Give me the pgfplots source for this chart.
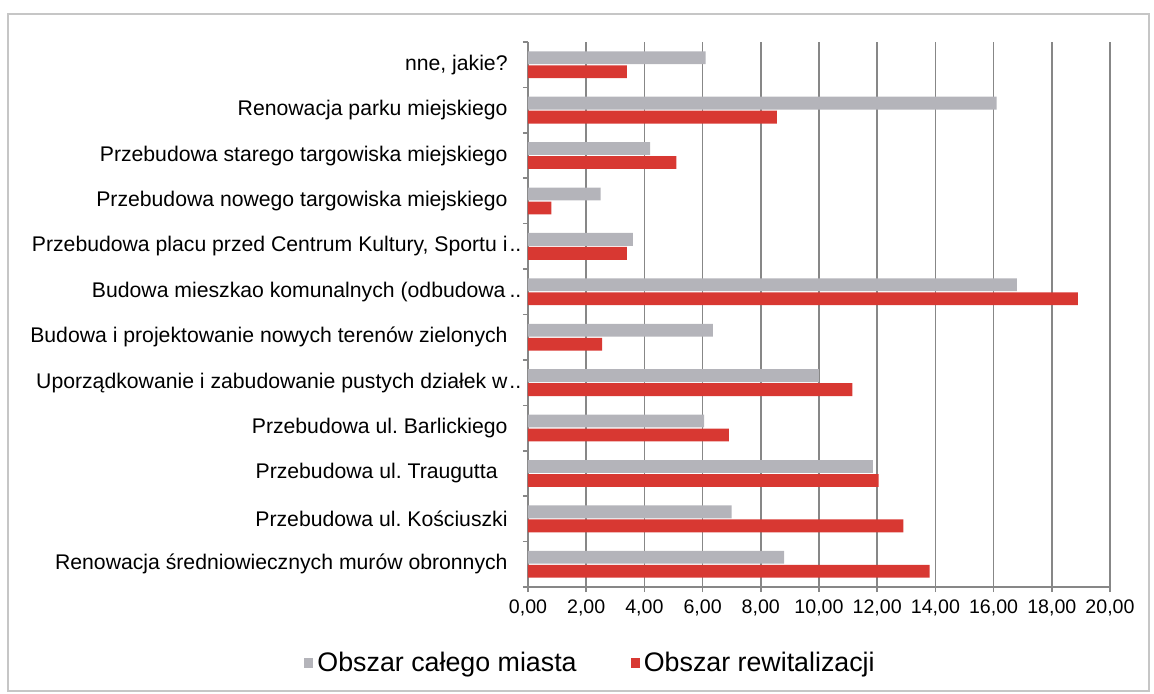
\documentclass[border=0pt]{standalone}
\usepackage{pgfplots}
\pgfplotsset{compat=1.18}
\usepackage{fontspec}
\setmainfont{Liberation Sans}
\definecolor{bargray}{RGB}{180,180,186}
\definecolor{barred}{RGB}{216,56,50}
\definecolor{gridc}{RGB}{135,135,135}
\newcommand{\trail}{\rlap{\kern1pt..}}
\begin{document}
\frenchspacing
\begin{tikzpicture}
\path[use as bounding box] (-264pt,-53pt) rectangle (313pt,293.5pt);
\draw[gray!45, line width=0.8pt] (-260pt,-52pt) rectangle (310.5pt,286.5pt);
\begin{axis}[
  at={(0pt,0pt)}, anchor=south west,
  scale only axis, width=291pt, height=272.5pt,
  xbar, bar width=6.4pt,
  xmin=0, xmax=20, ymin=-0.5, ymax=11.5,
  xtick={0,2,...,20},
  ytick={-0.5,0.5,...,11.5},
  y tick label as interval,
  yticklabels={
    Renowacja średniowiecznych murów obronnych,
    Przebudowa ul. Kościuszki,
    Przebudowa ul. Traugutta\kern5pt,
    Przebudowa ul. Barlickiego,
    Uporządkowanie i zabudowanie pustych działek w\trail,
    Budowa i projektowanie nowych terenów zielonych,
    Budowa mieszkao komunalnych (odbudowa\kern1pt\trail,
    Przebudowa placu przed Centrum Kultury{,} Sportu i\trail,
    Przebudowa nowego targowiska miejskiego,
    Przebudowa starego targowiska miejskiego,
    Renowacja parku miejskiego,
    {nne, jakie?}},
  axis x line*=bottom, axis y line*=left,
  axis line style={gridc, line width=0.8pt},
  tick align=outside, major tick length=2.5pt,
  tick style={gridc, line width=0.8pt},
  xmajorgrids, major grid style={gridc, line width=0.8pt},
  /pgf/number format/.cd, fixed, fixed zerofill, precision=2, use comma, assume math mode=true,
  /pgfplots/.cd,
  xticklabel style={font=\fontsize{9.8}{11}\selectfont, inner sep=0pt, anchor=north, yshift=-3.5pt},
  yticklabel style={font=\fontsize{10.6}{12}\selectfont, inner sep=0pt, anchor=east, xshift=-7.5pt},
  legend columns=2,
  legend style={at={(0.1091,-0.1394)}, anchor=center, draw=none, fill=none,
    font=\fontsize{13.4}{16}\selectfont,
    /tikz/every even column/.append style={column sep=25pt}},
  legend image code/.code={\fill[#1] (0pt,-2.3pt) rectangle (4.6pt,2.3pt);},
]
\addplot[fill=bargray, draw=none, bar shift=3.5pt] coordinates {
  (8.8,0) (7.0,1) (11.85,2) (6.05,3) (10.0,4) (6.35,5)
  (16.8,6) (3.6,7) (2.5,8) (4.2,9) (16.1,10) (6.1,11)};
\addplot[fill=barred, draw=none, bar shift=-3.5pt] coordinates {
  (13.8,0) (12.9,1) (12.05,2) (6.9,3) (11.15,4) (2.55,5)
  (18.9,6) (3.4,7) (0.8,8) (5.1,9) (8.55,10) (3.4,11)};
\legend{Obszar całego miasta, Obszar rewitalizacji}
\end{axis}
\end{tikzpicture}
\end{document}
